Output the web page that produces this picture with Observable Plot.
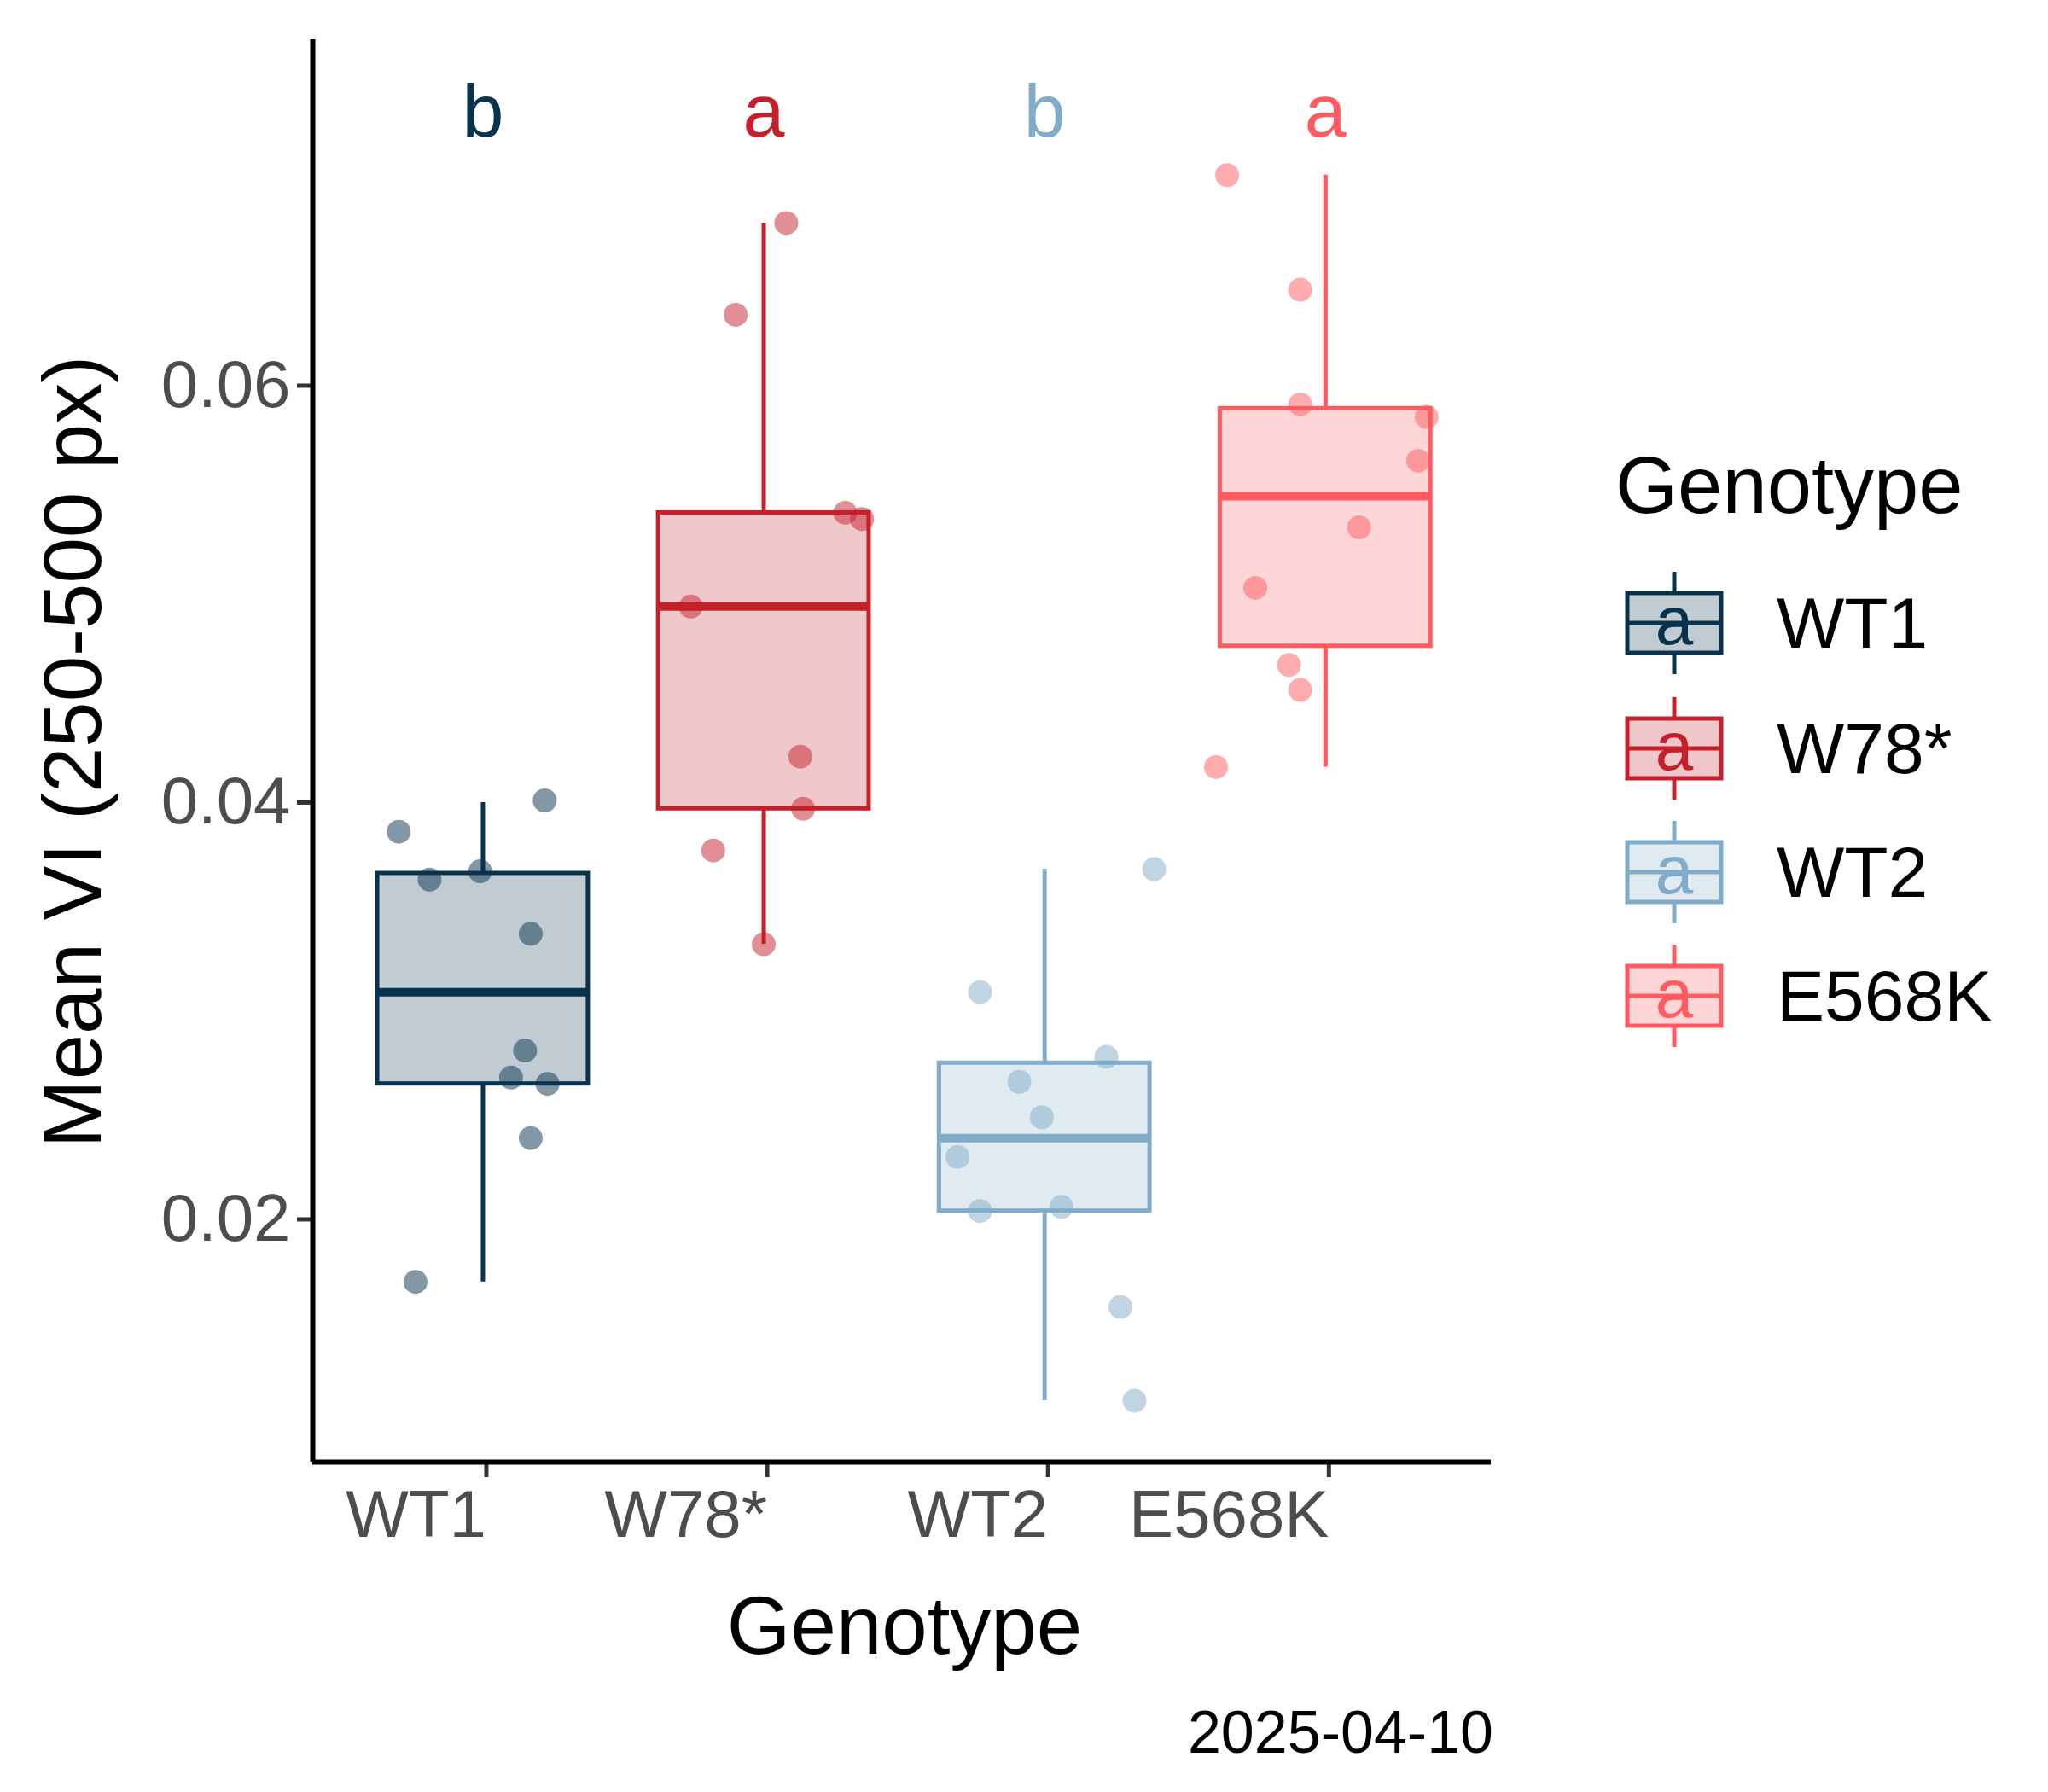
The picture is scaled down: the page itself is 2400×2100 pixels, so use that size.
<!DOCTYPE html>
<html><head><meta charset="utf-8">
<script src="https://cdn.jsdelivr.net/npm/d3@7"></script>
<script src="https://cdn.jsdelivr.net/npm/@observablehq/plot@0.6"></script>
<style>
body{margin:0;background:#fff;font-family:"Liberation Sans",Arial,sans-serif;}
#wrap{position:relative;width:2400px;height:2100px;}
.abs{position:absolute;white-space:nowrap;}
</style></head><body><div id="wrap"></div>
<script>
const categories = ["WT1","W78*","WT2","E568K"];
const colors = ["#08324d","#c4202a","#80abc9","#ff5a5f"];
const letters = ["b","a","b","a"];
const letterY = 0.0731;
// box stats per group: q1, median, q3, lower whisker, upper whisker
const q1 = [0.0265,0.0397,0.0204,0.0475];
const med = [0.0309,0.0494,0.0239,0.0547];
const q3 = [0.0366,0.0539,0.0275,0.0589];
const wLo = [0.0170,0.0332,0.0113,0.0417];
const wHi = [0.0400,0.0678,0.0368,0.0701];
// points: group index, jitter (x units), value
const ptGroup = [0,0,0,0,0,0,0,0,0,0, 1,1,1,1,1,1,1,1,1, 2,2,2,2,2,2,2,2,2,2, 3,3,3,3,3,3,3,3,3,3];
const ptJitter = [-0.30,-0.19,-0.01,0.22,0.17,0.15,0.10,0.23,0.17,-0.24,
  0.08,-0.10,0.29,0.35,-0.26,0.13,0.14,-0.18,0.0,
  0.39,-0.23,0.22,-0.09,-0.01,-0.31,-0.23,0.06,0.27,0.32,
  -0.35,-0.09,-0.09,0.36,0.33,0.12,-0.25,-0.13,-0.09,-0.39];
const ptValue = [0.0386,0.0363,0.0367,0.0401,0.0337,0.0281,0.0268,0.0265,0.0239,0.0170,
  0.0678,0.0634,0.0539,0.0536,0.0494,0.0422,0.0397,0.0377,0.0332,
  0.0368,0.0309,0.0278,0.0266,0.0249,0.0230,0.0204,0.0206,0.0158,0.0113,
  0.0701,0.0646,0.0591,0.0585,0.0564,0.0532,0.0503,0.0466,0.0454,0.0417];

const groups = categories.map((c,i)=>({i,c,col:colors[i],q1:q1[i],med:med[i],q3:q3[i],lo:wLo[i],hi:wHi[i],letter:letters[i]}));
const pts = ptValue.map((v,k)=>({x:ptGroup[k]+ptJitter[k],y:v,col:colors[ptGroup[k]]}));
const half = 0.375;
const yDom = [0.00835,0.0766], xDom=[-0.606,3.59];

const plot = Plot.plot({
  width:1800, height:1960, marginLeft:366, marginRight:53, marginTop:46, marginBottom:247,
  style:{fontFamily:"Liberation Sans, Arial, sans-serif", background:"white"},
  x:{type:"linear", domain:xDom},
  y:{domain:yDom},
  marks:[
    Plot.ruleX(groups,{x:"i",y1:"lo",y2:"hi",stroke:"col",strokeWidth:5}),
    Plot.rect(groups,{x1:d=>d.i-half,x2:d=>d.i+half,y1:"q1",y2:"q3",fill:"white",stroke:"none"}),
    Plot.rect(groups,{x1:d=>d.i-half,x2:d=>d.i+half,y1:"q1",y2:"q3",fill:"col",fillOpacity:0.25,stroke:"col",strokeWidth:5}),
    Plot.ruleY(groups,{y:"med",x1:d=>d.i-half,x2:d=>d.i+half,stroke:"col",strokeWidth:10}),
    Plot.dot(pts,{x:"x",y:"y",fill:"col",fillOpacity:0.5,r:14,stroke:"none"}),
    Plot.text(groups,{x:"i",y:()=>letterY,text:"letter",fill:"col",fontSize:88}),
    Plot.axisY({ticks:[0.02,0.04,0.06],tickFormat:d3.format(".2f"),tickSize:18,tickPadding:8,fontSize:78,color:"#4d4d4d",stroke:"black",strokeWidth:6,label:null}),
    Plot.axisX({ticks:[0,1,2,3],tickFormat:i=>categories[i],tickSize:18,tickPadding:14,fontSize:78,color:"#4d4d4d",stroke:"black",strokeWidth:6,textAnchor:"end",dx:4,label:null}),
    Plot.ruleX([xDom[0]],{stroke:"black",strokeWidth:6}),
    Plot.ruleY([yDom[0]],{stroke:"black",strokeWidth:6})
  ]
});
plot.querySelectorAll("[aria-label='y-axis tick'] path, [aria-label='x-axis tick'] path").forEach(p=>{p.setAttribute("stroke","#333");p.setAttribute("stroke-width","5");});
plot.style.position="absolute"; plot.style.left="0"; plot.style.top="0";
const wrap=document.getElementById("wrap");
wrap.appendChild(plot);

function addText(txt,css){const d=document.createElement("div");d.className="abs";d.textContent=txt;Object.assign(d.style,css);wrap.appendChild(d);return d;}
addText("Genotype",{left:"1060px",top:"1850px",fontSize:"96px",transform:"translateX(-50%)",color:"#000"});
addText("Mean VI (250-500 px)",{left:"85px",top:"881px",fontSize:"96px",transform:"translate(-50%,-50%) rotate(-90deg)",color:"#000"});
addText("2025-04-10",{left:"1750px",top:"1990px",fontSize:"70px",transform:"translateX(-100%)",color:"#000"});
addText("Genotype",{left:"1893px",top:"515px",fontSize:"94px",color:"#000"});

const rowsY=[730,877,1022,1167];
categories.forEach((c,i)=>{
  const ns="http://www.w3.org/2000/svg";
  const s=document.createElementNS(ns,"svg");
  s.setAttribute("width","130");s.setAttribute("height","130");
  s.style.position="absolute";s.style.left="1897px";s.style.top=(rowsY[i]-65)+"px";
  s.innerHTML=`<line x1="65" x2="65" y1="5" y2="125" stroke="${colors[i]}" stroke-width="5"/>
  <rect x="10" y="30" width="110" height="70" fill="white"/>
  <rect x="10" y="30" width="110" height="70" fill="${colors[i]}" fill-opacity="0.25" stroke="${colors[i]}" stroke-width="5"/>
  <line x1="10" x2="120" y1="65" y2="65" stroke="${colors[i]}" stroke-width="5"/>
  <text x="65" y="90" text-anchor="middle" font-size="80" font-family="Liberation Sans, Arial" fill="${colors[i]}">a</text>`;
  wrap.appendChild(s);
  addText(c,{left:"2082px",top:(rowsY[i]-48)+"px",fontSize:"84px",color:"#000"});
});
</script></body></html>
